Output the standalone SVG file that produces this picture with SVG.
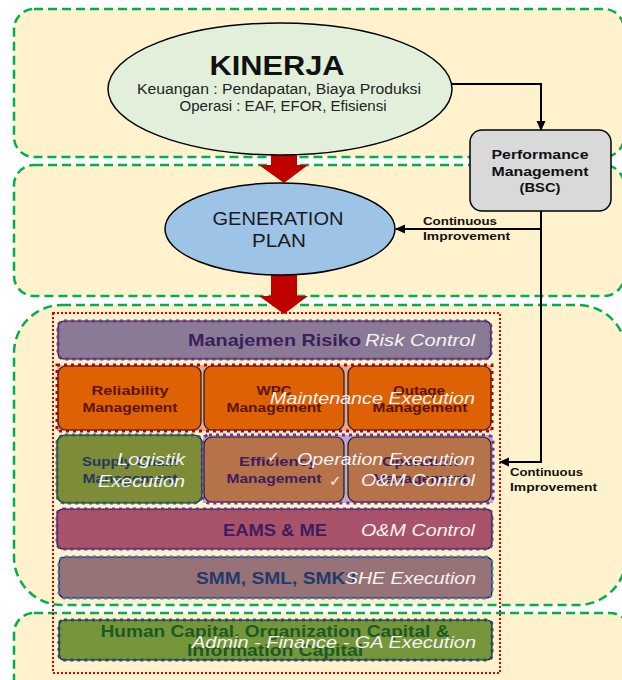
<svg xmlns="http://www.w3.org/2000/svg" width="622" height="680" viewBox="0 0 622 680">
<defs>
<marker id="ah" markerWidth="10" markerHeight="10" refX="9" refY="5" orient="auto" markerUnits="userSpaceOnUse">
<path d="M0,0.5 L10,5 L0,9.5 Z" fill="#000"/>
</marker>
<style>
.band{fill:#FFF2CC;stroke:#00B050;stroke-width:2.5;stroke-dasharray:9 5}
.b{font-family:"Liberation Sans",Arial,sans-serif;font-weight:bold}
.r{font-family:"Liberation Sans",Arial,sans-serif}
.it{font-family:"Liberation Sans",Arial,sans-serif;font-style:italic;fill:#F4F4F4;font-size:17px}
.thin{stroke:#1a1a1a;stroke-width:1.2}
.dotP{fill:none;stroke:#7030A0;stroke-width:3;stroke-dasharray:3 4}
.dotR{fill:none;stroke:#C00000;stroke-width:3;stroke-dasharray:3 4}
.dotT{fill:none;stroke:#17667A;stroke-width:3;stroke-dasharray:3 4}
.dotB{fill:none;stroke:#4472C4;stroke-width:3;stroke-dasharray:3 4}
.dotD{fill:none;stroke:#1F4E79;stroke-width:3;stroke-dasharray:3 4}
.con{fill:none;stroke:#000;stroke-width:2}
.red{fill:#C00000}
</style>
</defs>
<rect width="622" height="680" fill="#FFFFFF"/>
<g id="bands">
<rect class="band" x="14" y="9" width="610" height="148" rx="20"/>
<rect class="band" x="14" y="165" width="610" height="131" rx="20"/>
<rect class="band" x="14" y="305" width="612" height="300" rx="48"/>
<rect class="band" x="14" y="613" width="616" height="100" rx="20"/>
</g>
<g id="arrows-red">
<path class="red" d="M271,143 H297 V165 H308 L284,183 L259,165 H271 Z"/>
<path class="red" d="M271,275 H297 V296 H308 L284,314 L259,296 H271 Z"/>
</g>
<g id="kinerja">
<ellipse cx="280" cy="89" rx="172" ry="66" fill="#E2EFDA" stroke="#000" stroke-width="1.5"/>
<text class="b" x="277" y="75" font-size="27" text-anchor="middle" fill="#111" textLength="135" lengthAdjust="spacingAndGlyphs">KINERJA</text>
<text class="r" x="279" y="94" font-size="14" text-anchor="middle" fill="#222" textLength="284" lengthAdjust="spacingAndGlyphs">Keuangan : Pendapatan, Biaya Produksi</text>
<text class="r" x="283" y="111" font-size="14" text-anchor="middle" fill="#222" textLength="207" lengthAdjust="spacingAndGlyphs">Operasi : EAF, EFOR, Efisiensi</text>
</g>
<g id="generation-plan">
<ellipse cx="280" cy="229" rx="115" ry="46" fill="#9DC3E6" stroke="#000" stroke-width="1.5"/>
<text class="r" x="278" y="225" font-size="18" text-anchor="middle" fill="#1a1a1a" textLength="131" lengthAdjust="spacingAndGlyphs">GENERATION</text>
<text class="r" x="279" y="247" font-size="18" text-anchor="middle" fill="#1a1a1a" textLength="54" lengthAdjust="spacingAndGlyphs">PLAN</text>
</g>
<g id="performance-management">
<rect x="470" y="130" width="141" height="81" rx="12" fill="#D9D9D9" stroke="#000" stroke-width="1.5"/>
<text class="b" x="540" y="159" font-size="13" text-anchor="middle" fill="#111" textLength="97" lengthAdjust="spacingAndGlyphs">Performance</text>
<text class="b" x="540" y="176" font-size="13" text-anchor="middle" fill="#111" textLength="97" lengthAdjust="spacingAndGlyphs">Management</text>
<text class="b" x="540" y="192" font-size="13" text-anchor="middle" fill="#111" textLength="41" lengthAdjust="spacingAndGlyphs">(BSC)</text>
</g>
<g id="outer-frame">
<rect x="53" y="313" width="447" height="360" fill="none" stroke="#E00000" stroke-width="2" stroke-dasharray="2 2"/>
</g>
<g id="manajemen-risiko">
<rect x="58" y="321" width="433" height="38" rx="6" fill="#8B7A95" class="thin"/>
<rect x="58" y="321" width="433" height="38" rx="6" class="dotP"/>
<text class="b" x="188" y="346" font-size="17" fill="#3C1E5A" textLength="173" lengthAdjust="spacingAndGlyphs">Manajemen Risiko</text>
<text class="it" x="365" y="346" textLength="110" lengthAdjust="spacingAndGlyphs">Risk Control</text>
</g>
<g id="maintenance-row">
<rect x="57" y="365" width="435" height="66" fill="#E9A58E"/>
<rect x="58" y="366" width="143" height="64" rx="8" fill="#DE6103" class="thin"/>
<rect x="204" y="366" width="140" height="64" rx="8" fill="#DE6103" class="thin"/>
<rect x="348" y="366" width="143" height="64" rx="8" fill="#DE6103" class="thin"/>
<rect x="57" y="365" width="435" height="66" class="dotR"/>
<g class="b" font-size="13" fill="#5A1400" text-anchor="middle">
<text x="130" y="395" textLength="77" lengthAdjust="spacingAndGlyphs">Reliability</text>
<text x="130" y="412" textLength="95" lengthAdjust="spacingAndGlyphs">Management</text>
<text x="274" y="395" textLength="35" lengthAdjust="spacingAndGlyphs">WPC</text>
<text x="274" y="412" textLength="95" lengthAdjust="spacingAndGlyphs">Management</text>
<text x="419" y="395" textLength="52" lengthAdjust="spacingAndGlyphs">Outage</text>
<text x="420" y="412" textLength="95" lengthAdjust="spacingAndGlyphs">Management</text>
</g>
<text class="it" x="270" y="404" font-size="18" textLength="205" lengthAdjust="spacingAndGlyphs">Maintenance Execution</text>
</g>
<g id="supply-chain">
<rect x="57" y="435" width="145" height="68" rx="8" fill="#7E8B37" class="thin"/>
<rect x="57" y="435" width="145" height="68" rx="8" class="dotT"/>
<g class="b" font-size="13" fill="#1F3A5F" text-anchor="middle">
<text x="130" y="466" textLength="96" lengthAdjust="spacingAndGlyphs">Supply Chain</text>
<text x="130" y="483" textLength="95" lengthAdjust="spacingAndGlyphs">Management</text>
</g>
<text class="it" x="117" y="465" font-size="18" textLength="68" lengthAdjust="spacingAndGlyphs">Logistik</text>
<text class="it" x="98" y="487" font-size="18" textLength="87" lengthAdjust="spacingAndGlyphs">Execution</text>
</g>
<g id="operation-row">
<rect x="203" y="435" width="290" height="68" fill="#C3A6CF"/>
<rect x="204" y="437" width="140" height="65" rx="8" fill="#B67249" class="thin"/>
<rect x="348" y="437" width="143" height="65" rx="8" fill="#B67249" class="thin"/>
<rect x="203" y="435" width="290" height="68" rx="6" class="dotP"/>
<g class="b" font-size="13" fill="#3D1D5E" text-anchor="middle">
<text x="278" y="466" textLength="78" lengthAdjust="spacingAndGlyphs">Efficiency</text>
<text x="274" y="483" textLength="95" lengthAdjust="spacingAndGlyphs">Management</text>
<text x="420" y="466" textLength="76" lengthAdjust="spacingAndGlyphs">Operation</text>
<text x="420" y="483" textLength="95" lengthAdjust="spacingAndGlyphs">Management</text>
</g>
<text x="267" y="462" font-family="DejaVu Sans,sans-serif" font-size="15" fill="#F4F4F4">✓</text>
<text x="329" y="486" font-family="DejaVu Sans,sans-serif" font-size="15" fill="#F4F4F4">✓</text>
<text class="it" x="297" y="465" font-size="18" textLength="178" lengthAdjust="spacingAndGlyphs">Operation Execution</text>
<text class="it" x="361" y="486" font-size="18" textLength="114" lengthAdjust="spacingAndGlyphs">O&amp;M Control</text>
</g>
<g id="eams-me">
<rect x="57" y="509" width="435" height="40" rx="6" fill="#A9536A" class="thin"/>
<rect x="57" y="509" width="435" height="40" rx="6" class="dotP"/>
<text class="b" x="223" y="536" font-size="17" fill="#3D1D5E" textLength="104" lengthAdjust="spacingAndGlyphs">EAMS &amp; ME</text>
<text class="it" x="361" y="536" font-size="18" textLength="114" lengthAdjust="spacingAndGlyphs">O&amp;M Control</text>
</g>
<g id="smm">
<rect x="59" y="557" width="433" height="41" rx="6" fill="#977276" class="thin"/>
<rect x="59" y="557" width="433" height="41" rx="6" class="dotB"/>
<text class="b" x="196" y="584" font-size="17" fill="#1F3A6A" textLength="160" lengthAdjust="spacingAndGlyphs">SMM, SML, SMK3</text>
<text class="it" x="345" y="584" font-size="18" textLength="131" lengthAdjust="spacingAndGlyphs">SHE Execution</text>
</g>
<g id="human-capital">
<rect x="59" y="620" width="433" height="40" rx="5" fill="#76963C" class="thin"/>
<rect x="59" y="620" width="433" height="40" rx="5" class="dotD"/>
<text class="b" x="275" y="637" font-size="16" fill="#1C5A22" text-anchor="middle" textLength="349" lengthAdjust="spacingAndGlyphs">Human Capital, Organization Capital &amp;</text>
<text class="b" x="275" y="656" font-size="16" fill="#1C5A22" text-anchor="middle" textLength="176" lengthAdjust="spacingAndGlyphs">Information Capital</text>
<text class="it" x="192" y="648" font-size="18" textLength="284" lengthAdjust="spacingAndGlyphs">Admin - Finance - GA Execution</text>
</g>
<g id="connectors">
<path class="con" d="M451,84 H541 V130" marker-end="url(#ah)"/>
<path class="con" d="M541,211 V462 H500" marker-end="url(#ah)"/>
<path class="con" d="M541,229 H396" marker-end="url(#ah)"/>
<g class="b" font-size="11" fill="#111">
<text x="423" y="225" textLength="74" lengthAdjust="spacingAndGlyphs">Continuous</text>
<text x="423" y="240" textLength="87" lengthAdjust="spacingAndGlyphs">Improvement</text>
<text x="510" y="476" textLength="73" lengthAdjust="spacingAndGlyphs">Continuous</text>
<text x="510" y="491" textLength="87" lengthAdjust="spacingAndGlyphs">Improvement</text>
</g>
</g>
</svg>
